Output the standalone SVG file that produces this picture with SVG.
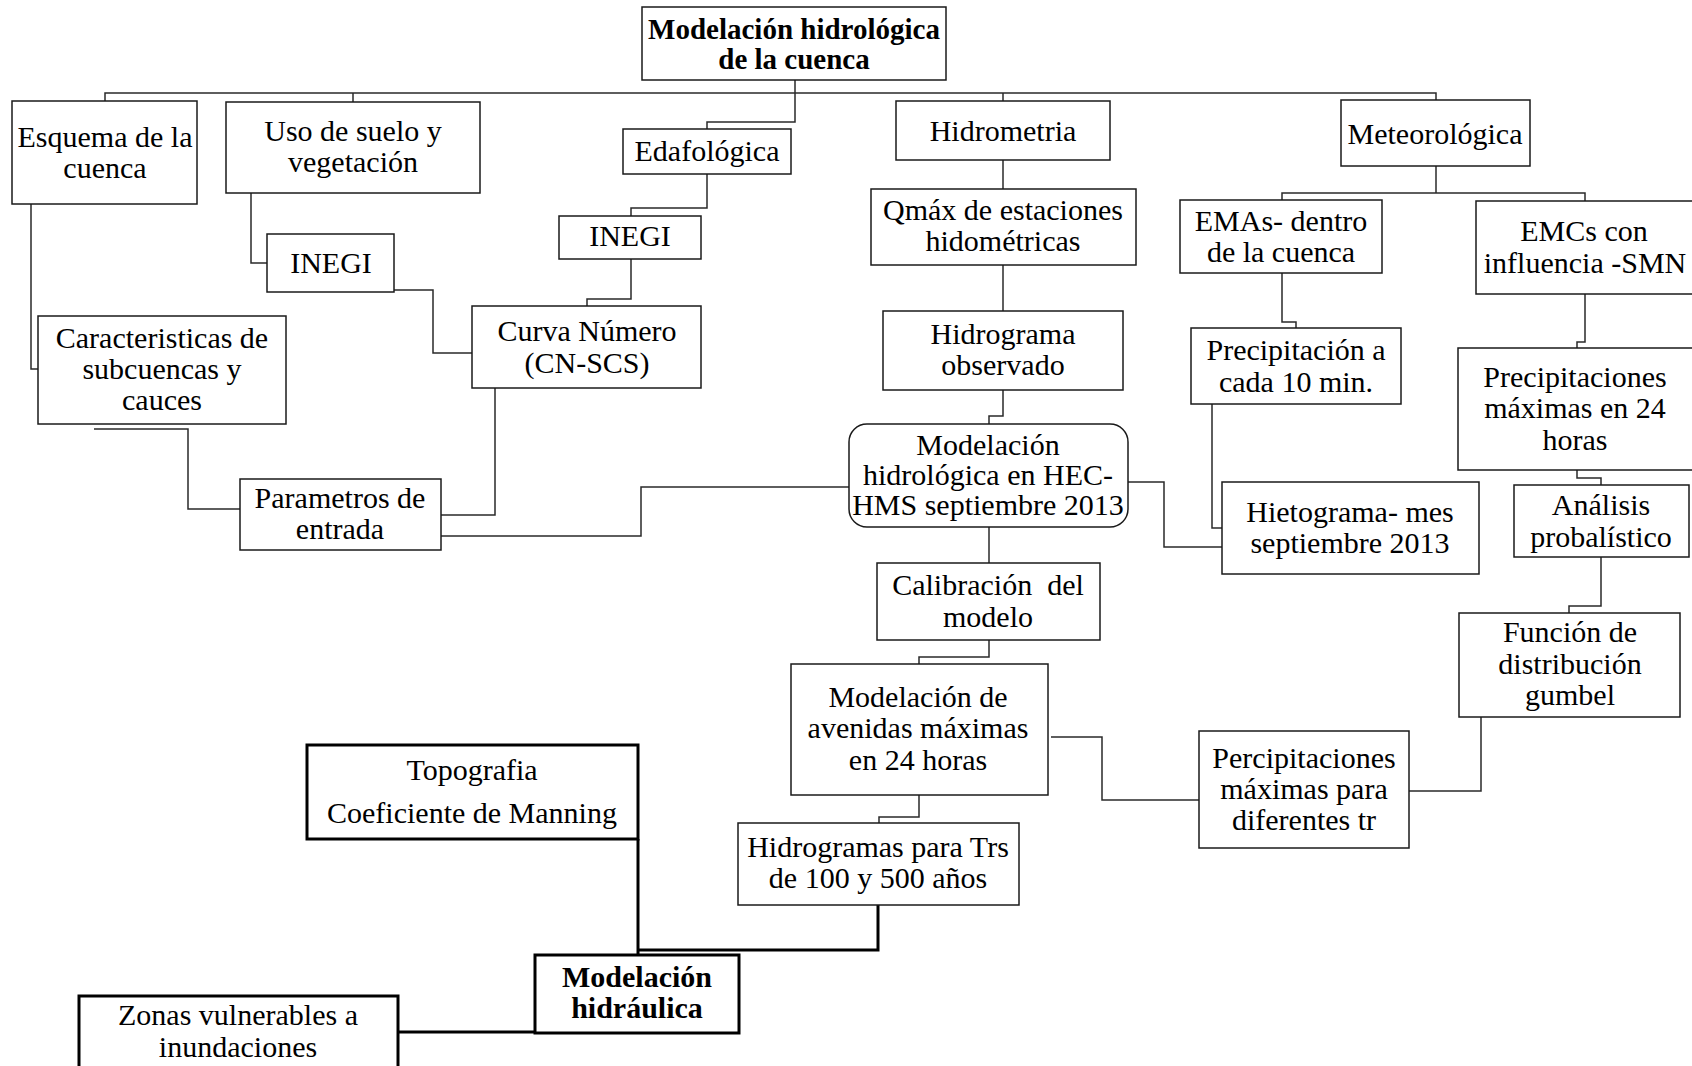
<svg xmlns="http://www.w3.org/2000/svg" width="1692" height="1066" viewBox="0 0 1692 1066">
  <style>
    .bx { fill: #ffffff; stroke: #1a1a1a; stroke-width: 1.5; }
    .bxt { fill: #ffffff; stroke: #000000; stroke-width: 3; }
    .ln { fill: none; stroke: #2a2a2a; stroke-width: 1.5; }
    .lnt { fill: none; stroke: #000000; stroke-width: 3; }
    text { font-family: "Liberation Serif", "Times New Roman", serif; font-size: 30px; fill: #000000; text-anchor: middle; }
    .b { font-weight: bold; }
    .t { font-size: 29px; }
  </style>
  <rect width="1692" height="1066" fill="#ffffff"/>

  <!-- connectors -->
  <g id="connectors">
    <path class="ln" d="M795 80 V122 H707 V129"/>
    <path class="ln" d="M105 101 V93 H1436 V100"/>
    <path class="ln" d="M353 93 V102"/>
    <path class="ln" d="M1003 93 V101"/>
    <path class="ln" d="M31 204 V369 H38"/>
    <path class="ln" d="M251 193 V263 H267"/>
    <path class="ln" d="M394 290 H433 V353 H472"/>
    <path class="ln" d="M707 174 V208 H631 V216"/>
    <path class="ln" d="M631 259 V299 H587 V306"/>
    <path class="ln" d="M495 388 V515 H441"/>
    <path class="ln" d="M94 429 H188 V509 H240"/>
    <path class="ln" d="M438 536 H641 V487 H849"/>
    <path class="ln" d="M1003 160 V189"/>
    <path class="ln" d="M1003 265 V311"/>
    <path class="ln" d="M1003 390 V416 H989 V424"/>
    <path class="ln" d="M989 527 V563"/>
    <path class="ln" d="M989 640 V657 H919 V664"/>
    <path class="ln" d="M919 795 V817 H879 V823"/>
    <path class="ln" d="M1436 166 V193"/>
    <path class="ln" d="M1282 200 V193 H1585 V201"/>
    <path class="ln" d="M1282 273 V322 H1296 V328"/>
    <path class="ln" d="M1585 294 V342 H1577 V348"/>
    <path class="ln" d="M1212 404 V528 H1222"/>
    <path class="ln" d="M1128 482 H1164 V547 H1222"/>
    <path class="ln" d="M1577 470 V478 H1601 V485"/>
    <path class="ln" d="M1601 557 V606 H1569 V613"/>
    <path class="ln" d="M1481 717 V791 H1409"/>
    <path class="ln" d="M1051 737 H1102 V800 H1199"/>
    <path class="lnt" d="M638 839 V955"/>
    <path class="lnt" d="M878 905 V950 H638"/>
    <path class="lnt" d="M398 1032 H535"/>
  </g>

  <g id="n-cuenca">
    <rect class="bx" x="642" y="7" width="304" height="73"/>
    <text class="b t" x="794" y="39">Modelación hidrológica</text>
    <text class="b t" x="794" y="69">de la cuenca</text>
  </g>
  <g id="n-esquema">
    <rect class="bx" x="12" y="101" width="185" height="103"/>
    <text x="105" y="147">Esquema de la</text>
    <text x="105" y="178">cuenca</text>
  </g>
  <g id="n-uso">
    <rect class="bx" x="226" y="102" width="254" height="91"/>
    <text x="353" y="141">Uso de suelo y</text>
    <text x="353" y="172">vegetación</text>
  </g>
  <g id="n-edafo">
    <rect class="bx" x="623" y="129" width="168" height="45"/>
    <text x="707" y="161">Edafológica</text>
  </g>
  <g id="n-hidrometria">
    <rect class="bx" x="896" y="101" width="214" height="59"/>
    <text x="1003" y="141">Hidrometria</text>
  </g>
  <g id="n-meteo">
    <rect class="bx" x="1341" y="100" width="189" height="66"/>
    <text x="1435" y="144">Meteorológica</text>
  </g>
  <g id="n-inegi1">
    <rect class="bx" x="267" y="234" width="127" height="58"/>
    <text x="331" y="273">INEGI</text>
  </g>
  <g id="n-inegi2">
    <rect class="bx" x="559" y="216" width="142" height="43"/>
    <text x="630" y="246">INEGI</text>
  </g>
  <g id="n-qmax">
    <rect class="bx" x="871" y="189" width="265" height="76"/>
    <text x="1003" y="220">Qmáx de estaciones</text>
    <text x="1003" y="251">hidométricas</text>
  </g>
  <g id="n-emas">
    <rect class="bx" x="1180" y="200" width="202" height="73"/>
    <text x="1281" y="231">EMAs- dentro</text>
    <text x="1281" y="262">de la cuenca</text>
  </g>
  <g id="n-emcs">
    <rect class="bx" x="1476" y="201" width="222" height="93"/>
    <text x="1584" y="241">EMCs con</text>
    <text x="1585" y="273">influencia -SMN</text>
  </g>
  <g id="n-caract">
    <rect class="bx" x="38" y="316" width="248" height="108"/>
    <text x="162" y="348">Caracteristicas de</text>
    <text x="162" y="379">subcuencas y</text>
    <text x="162" y="410">cauces</text>
  </g>
  <g id="n-curva">
    <rect class="bx" x="472" y="306" width="229" height="82"/>
    <text x="587" y="341">Curva Número</text>
    <text x="587" y="373">(CN-SCS)</text>
  </g>
  <g id="n-hidrograma">
    <rect class="bx" x="883" y="311" width="240" height="79"/>
    <text x="1003" y="344">Hidrograma</text>
    <text x="1003" y="375">observado</text>
  </g>
  <g id="n-precip10">
    <rect class="bx" x="1191" y="328" width="210" height="76"/>
    <text x="1296" y="360">Precipitación a</text>
    <text x="1296" y="392">cada 10 min.</text>
  </g>
  <g id="n-precmax">
    <rect class="bx" x="1458" y="348" width="240" height="122"/>
    <text x="1575" y="387">Precipitaciones</text>
    <text x="1575" y="418">máximas en 24</text>
    <text x="1575" y="450">horas</text>
  </g>
  <g id="n-hechms">
    <rect class="bx" x="849" y="424" width="279" height="103" rx="18" ry="18"/>
    <text x="988" y="455">Modelación</text>
    <text x="988" y="485">hidrológica en HEC-</text>
    <text x="988" y="515">HMS septiembre 2013</text>
  </g>
  <g id="n-parametros">
    <rect class="bx" x="240" y="479" width="201" height="71"/>
    <text x="340" y="508">Parametros de</text>
    <text x="340" y="539">entrada</text>
  </g>
  <g id="n-hietograma">
    <rect class="bx" x="1222" y="482" width="257" height="92"/>
    <text x="1350" y="522">Hietograma- mes</text>
    <text x="1350" y="553">septiembre 2013</text>
  </g>
  <g id="n-analisis">
    <rect class="bx" x="1514" y="485" width="175" height="72"/>
    <text x="1601" y="515">Análisis</text>
    <text x="1601" y="547">probalístico</text>
  </g>
  <g id="n-calibracion">
    <rect class="bx" x="877" y="563" width="223" height="77"/>
    <text x="988" y="595" xml:space="preserve">Calibración  del</text>
    <text x="988" y="627">modelo</text>
  </g>
  <g id="n-gumbel">
    <rect class="bx" x="1459" y="613" width="221" height="104"/>
    <text x="1570" y="642">Función de</text>
    <text x="1570" y="674">distribución</text>
    <text x="1570" y="705">gumbel</text>
  </g>
  <g id="n-avenidas">
    <rect class="bx" x="791" y="664" width="257" height="131"/>
    <text x="918" y="707">Modelación de</text>
    <text x="918" y="738">avenidas máximas</text>
    <text x="918" y="770">en 24 horas</text>
  </g>
  <g id="n-percip">
    <rect class="bx" x="1199" y="731" width="210" height="117"/>
    <text x="1304" y="768">Percipitaciones</text>
    <text x="1304" y="799">máximas para</text>
    <text x="1304" y="830">diferentes tr</text>
  </g>
  <g id="n-topografia">
    <rect class="bxt" x="307" y="745" width="331" height="94"/>
    <text x="472" y="780">Topografia</text>
    <text x="472" y="823">Coeficiente de Manning</text>
  </g>
  <g id="n-hidrogramas-tr">
    <rect class="bx" x="738" y="823" width="281" height="82"/>
    <text x="878" y="857">Hidrogramas para Trs</text>
    <text x="878" y="888">de 100 y 500 años</text>
  </g>
  <g id="n-hidraulica">
    <rect class="bxt" x="535" y="955" width="204" height="78"/>
    <text class="b" x="637" y="987">Modelación</text>
    <text class="b" x="637" y="1018">hidráulica</text>
  </g>
  <g id="n-zonas">
    <rect class="bxt" x="79" y="996" width="319" height="84"/>
    <text x="238" y="1025">Zonas vulnerables a</text>
    <text x="238" y="1057">inundaciones</text>
  </g>
</svg>
